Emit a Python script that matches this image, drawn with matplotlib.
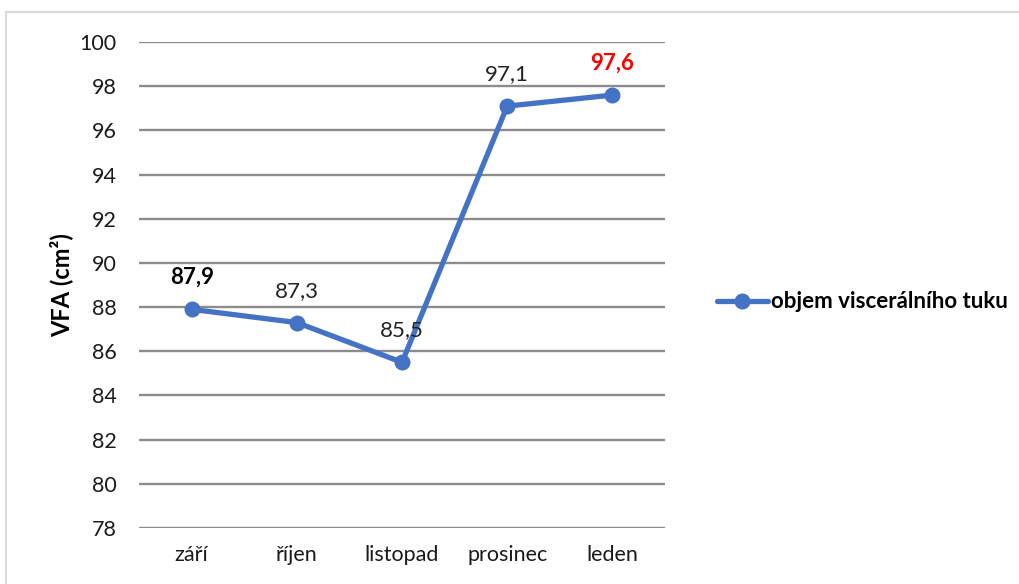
import matplotlib
matplotlib.use('Agg')
import matplotlib.pyplot as plt
from matplotlib.patches import Rectangle

# monthly visceral fat area
months = ['září', 'říjen', 'listopad', 'prosinec', 'leden']
vfa = [87.9, 87.3, 85.5, 97.1, 97.6]
label_weights = ['bold', 'normal', 'normal', 'normal', 'bold']
label_colors = ['black', '#222222', '#222222', '#222222', '#ff0000']
yticks = list(range(78, 101, 2))

plt.rcParams['font.family'] = ['Lato', 'DejaVu Sans']

fig = plt.figure(figsize=(10.2, 5.84), dpi=100)
ax = fig.add_axes([0.1363, 0.0959, 0.652 - 0.1363, 0.928 - 0.0959])

# outer chart frame
fig.patches.append(Rectangle((6 / 1020, -0.05), 1.1, 1 - 12 / 584 + 0.05,
                             transform=fig.transFigure, fill=False,
                             edgecolor='#d9d9d9', lw=1.5))

x = list(range(len(months)))
line, = ax.plot(x, vfa, color='#4472c4', lw=3.8, marker='o', ms=10.5,
                solid_capstyle='round', label='objem viscerálního tuku',
                zorder=3)

for xi, v, w, c in zip(x, vfa, label_weights, label_colors):
    ax.annotate(f'{v:.1f}'.replace('.', ','), (xi, v), xytext=(0, 23),
                textcoords='offset points', ha='center', va='center',
                fontsize=16, fontweight=w, color=c, zorder=4)

ax.set_xlim(-0.5, len(months) - 0.5)
ax.set_ylim(78, 100)
ax.set_yticks(yticks)
ax.set_xticks(x)
ax.set_xticklabels(months)
ax.yaxis.grid(True, color='#8c8c8c', lw=1.7)
ax.set_axisbelow(True)
for s in ax.spines.values():
    s.set_visible(False)
ax.tick_params(length=0, labelsize=15.5, colors='#1a1a1a', pad=16)
ax.tick_params(axis='x', pad=12)
ax.set_ylabel('VFA (cm²)', fontsize=17, fontweight='bold', labelpad=5)

fig.legend(handles=[line], loc='center left', bbox_to_anchor=(0.683, 0.483),
           frameon=False, handlelength=2.3,
           prop={'size': 16, 'weight': 'bold'}, handletextpad=0.15)

fig.savefig('out.png', dpi=100)
